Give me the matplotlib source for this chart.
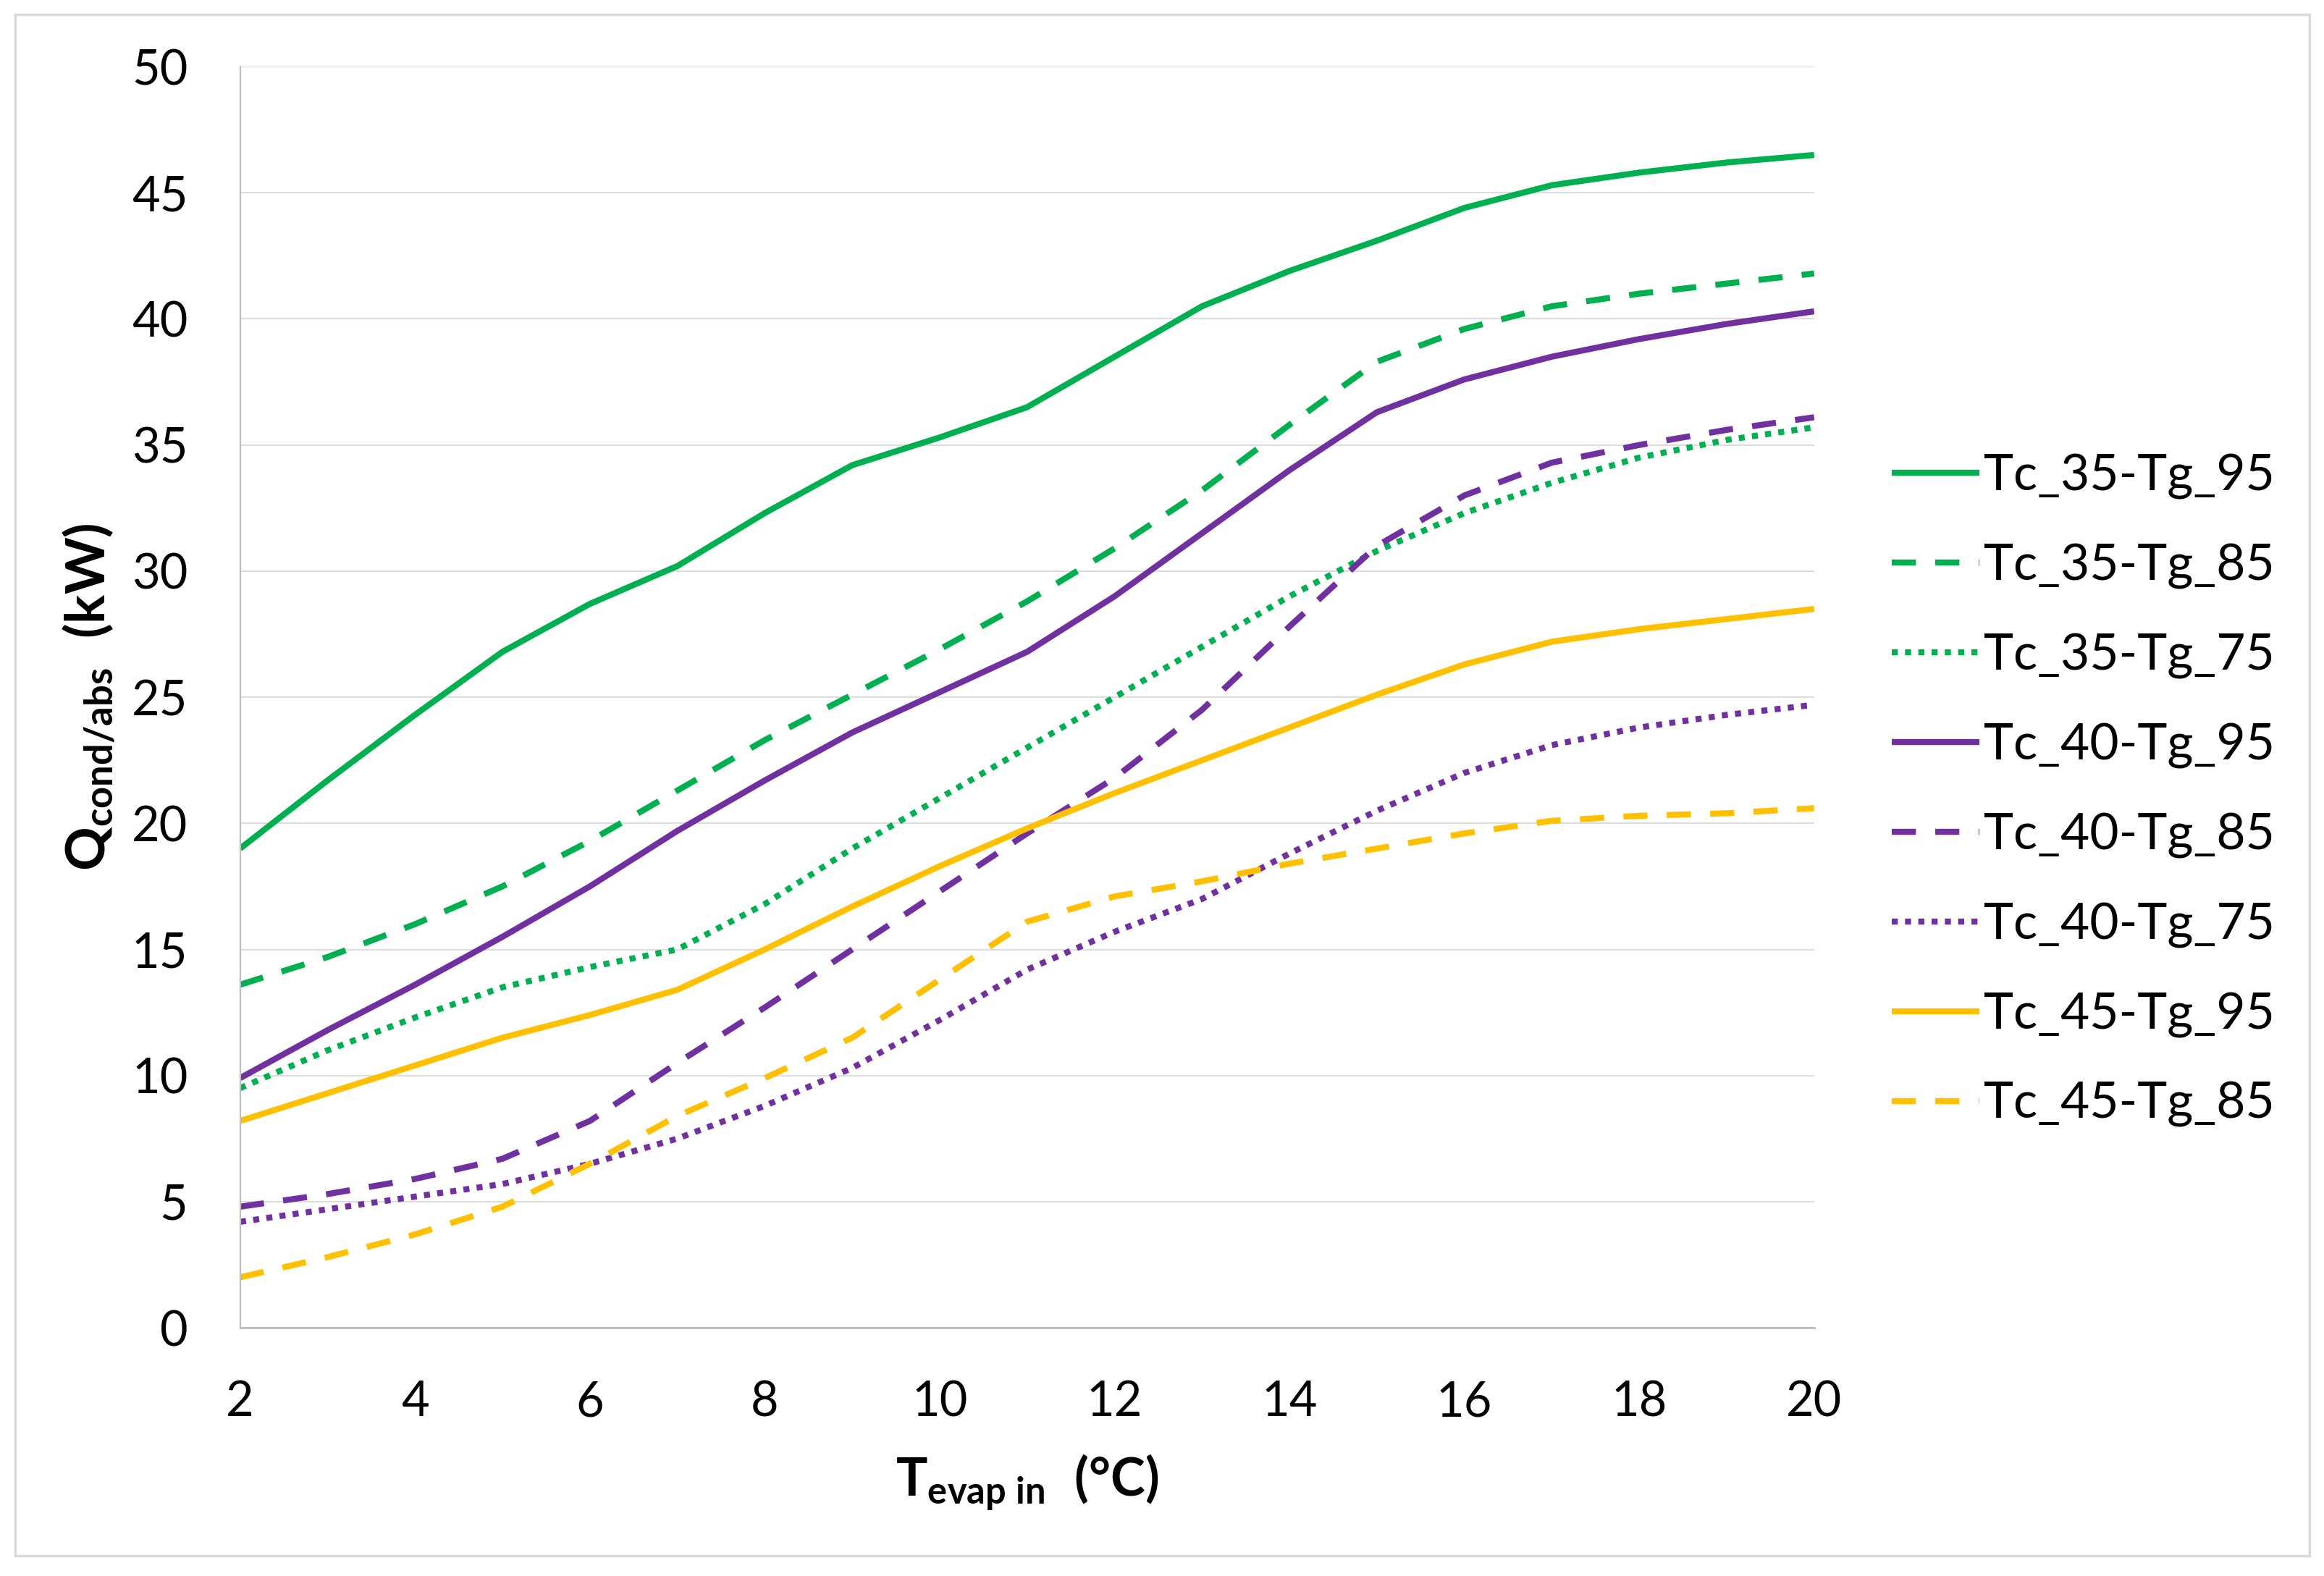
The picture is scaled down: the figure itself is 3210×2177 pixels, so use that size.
import matplotlib
matplotlib.use("Agg")
import matplotlib.pyplot as plt
from matplotlib.patches import Rectangle

plt.rcParams['font.family'] = ['Lato', 'DejaVu Sans']
plt.rcParams['mathtext.fontset'] = 'custom'
plt.rcParams['mathtext.rm'] = 'Lato'
plt.rcParams['mathtext.bf'] = 'Lato:bold'
plt.rcParams['mathtext.it'] = 'Lato:italic'

# ---- data ----
t_evap = [2, 3, 4, 5, 6, 7, 8, 9, 10, 11, 12, 13, 14, 15, 16, 17, 18, 19, 20]

tc35_tg95 = [19.0, 21.7, 24.3, 26.8, 28.7, 30.2, 32.3, 34.2, 35.3, 36.5, 38.5, 40.5, 41.9, 43.1, 44.4, 45.3, 45.8, 46.2, 46.5]
tc35_tg85 = [13.6, 14.7, 16.0, 17.5, 19.3, 21.3, 23.3, 25.1, 26.9, 28.8, 30.9, 33.2, 35.8, 38.3, 39.6, 40.5, 41.0, 41.4, 41.8]
tc35_tg75 = [9.5, 11.0, 12.3, 13.5, 14.3, 15.0, 16.8, 19.0, 21.0, 23.0, 25.0, 27.0, 29.0, 30.8, 32.3, 33.5, 34.5, 35.2, 35.7]
tc40_tg95 = [9.9, 11.8, 13.6, 15.5, 17.5, 19.7, 21.7, 23.6, 25.2, 26.8, 29.0, 31.5, 34.0, 36.3, 37.6, 38.5, 39.2, 39.8, 40.3]
tc40_tg85 = [4.8, 5.3, 5.9, 6.7, 8.2, 10.5, 12.7, 15.0, 17.3, 19.6, 21.8, 24.5, 27.8, 31.0, 33.0, 34.3, 35.0, 35.6, 36.1]
tc40_tg75 = [4.2, 4.7, 5.2, 5.7, 6.5, 7.5, 8.8, 10.3, 12.2, 14.2, 15.7, 17.0, 18.8, 20.5, 22.0, 23.1, 23.8, 24.3, 24.7]
tc45_tg95 = [8.2, 9.3, 10.4, 11.5, 12.4, 13.4, 15.0, 16.7, 18.3, 19.8, 21.2, 22.5, 23.8, 25.1, 26.3, 27.2, 27.7, 28.1, 28.5]
tc45_tg85 = [2.0, 2.8, 3.7, 4.8, 6.5, 8.4, 9.9, 11.5, 13.8, 16.1, 17.1, 17.7, 18.4, 19.0, 19.6, 20.1, 20.3, 20.4, 20.6]

series_labels = ['Tc_35-Tg_95', 'Tc_35-Tg_85', 'Tc_35-Tg_75',
                 'Tc_40-Tg_95', 'Tc_40-Tg_85', 'Tc_40-Tg_75',
                 'Tc_45-Tg_95', 'Tc_45-Tg_85']
series_values = [tc35_tg95, tc35_tg85, tc35_tg75,
                 tc40_tg95, tc40_tg85, tc40_tg75,
                 tc45_tg95, tc45_tg85]

x_ticks = [2, 4, 6, 8, 10, 12, 14, 16, 18, 20]
y_ticks = [0, 5, 10, 15, 20, 25, 30, 35, 40, 45, 50]

# ---- styles ----
GREEN = '#00B050'
PURPLE = '#7030A0'
YELLOW = '#FFC000'
colors = [GREEN, GREEN, GREEN, PURPLE, PURPLE, PURPLE, YELLOW, YELLOW]
SOLID = 'solid'
DASH = (0, (4.0, 3.2))
DOT = (0, (1.0, 1.2))
styles = [SOLID, DASH, DOT, SOLID, DASH, DOT, SOLID, DASH]
LW = 6.0

fig = plt.figure(figsize=(32.10, 21.77), dpi=100)
ax = fig.add_axes([0.1033, 0.1575, 0.6773, 0.8002])

for vals, lab, c, ls in zip(series_values, series_labels, colors, styles):
    ax.plot(t_evap, vals, color=c, linestyle=ls, linewidth=LW, label=lab,
            dash_capstyle='butt', solid_capstyle='butt', solid_joinstyle='round')

ax.set_xlim(2, 20)
ax.set_ylim(0, 50)
ax.set_xticks(x_ticks)
ax.set_yticks(y_ticks)
ax.tick_params(axis='both', length=0, labelsize=48, pad=52)
ax.grid(axis='y', color='#D9D9D9', linewidth=1.3)
ax.set_axisbelow(True)
for s in ['top', 'right']:
    ax.spines[s].set_visible(False)
ax.spines['left'].set_color('#BFBFBF')
ax.spines['left'].set_linewidth(1.6)
ax.spines['bottom'].set_color('#BFBFBF')
ax.spines['bottom'].set_linewidth(2.2)

ax.set_ylabel(r'$\mathbf{Q_{cond/abs}\ \ (kW)}$', fontsize=54, labelpad=14)
ax.set_xlabel(r'$\mathbf{T_{evap\ in}\ \ (°C)}$', fontsize=52, labelpad=27)

leg = ax.legend(loc='center left', bbox_to_anchor=(1.0365, 0.426), frameon=False,
                fontsize=50, handlelength=1.75, handletextpad=0.08,
                labelspacing=0.87, borderaxespad=0)

fig.patches.append(Rectangle((0.0064, 0.0127), 0.9873, 0.978, transform=fig.transFigure,
                             fill=False, edgecolor='#D9D9D9', linewidth=2.5))

fig.savefig('out.png', dpi=100, facecolor='white')
